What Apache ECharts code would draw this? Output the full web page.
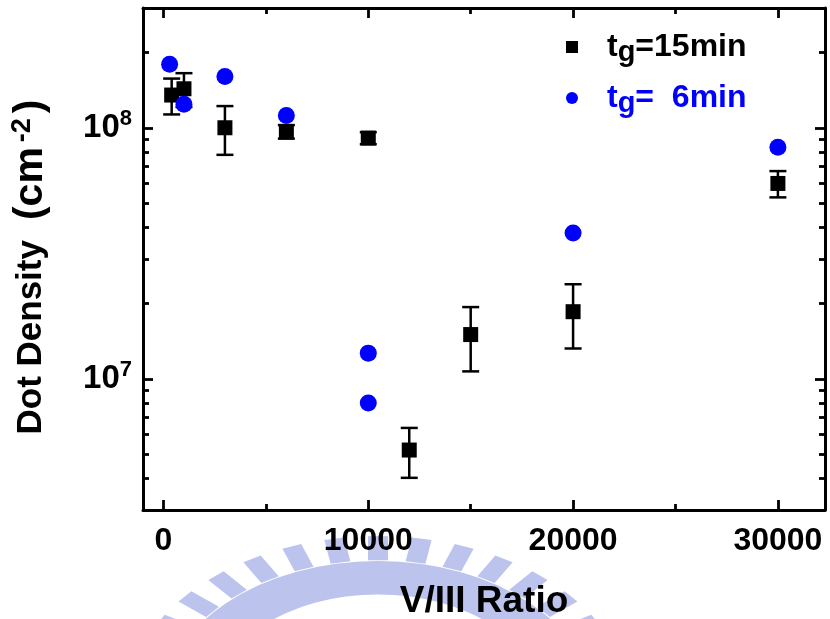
<!DOCTYPE html>
<html><head><meta charset="utf-8">
<script src="https://cdn.jsdelivr.net/npm/echarts@6/dist/echarts.min.js"></script>
<style>html,body{margin:0;padding:0;background:#fff}#c{width:830px;height:619px}</style>
</head><body><div id="c"></div>
<script>
// ---- data ----
const xTickLabels = [0, 10000, 20000, 30000];
const xMinorTicks = [5000, 15000, 25000];
const yTickLabels = [1e7, 1e8];
const yMinorTicks = [4e6, 5e6, 6e6, 7e6, 8e6, 9e6, 2e7, 3e7, 4e7, 5e7, 6e7, 7e7, 8e7, 9e7, 2e8];

const ratio15 = [400, 1000, 3000, 6000, 10000, 12000, 15000, 20000, 30000];
const density15 = [1.35e8, 1.43e8, 1.0e8, 0.965e8, 0.91e8, 5.2e6, 1.5e7, 1.85e7, 6.0e7];
const error15 = [0.22e8, 0.22e8, 0.22e8, 0.06e8, 0.05e8, 1.17e6, 0.43e7, 0.53e7, 0.72e7];

const ratio6 = [300, 1000, 3000, 6000, 10000, 10000, 20000, 30000];
const density6 = [1.79e8, 1.24e8, 1.60e8, 1.12e8, 1.265e7, 8.0e6, 3.81e7, 8.36e7];

const legendNames = ['t15', 't6'];
const legendTexts = ['=15min', '=  6min'];

// ---- chart ----
const FONT = '"Liberation Sans", Arial, Helvetica, sans-serif';
const BLUE = '#0000ff';
const X_MIN = -1000, X_MAX = 32300, Y_MIN = 3e6, Y_MAX = 3e8;
const lineSt = {color: '#000', width: 3};
const tickSt = {color: '#000', width: 2.8};

function xAxisDef(position, ticks, len, showLine, showLabel) {
  return {
    type: 'value', position, min: X_MIN, max: X_MAX,
    axisLine: {show: showLine, onZero: false, lineStyle: lineSt},
    axisTick: {show: true, inside: true, length: len, customValues: ticks, lineStyle: tickSt},
    axisLabel: {show: showLabel, customValues: ticks, formatter: v => String(v),
      fontSize: 32, fontWeight: 'bold', color: '#000', fontFamily: FONT, margin: 15},
    splitLine: {show: false}
  };
}
function yAxisDef(position, ticks, len, showLine, showLabel) {
  return {
    type: 'log', logBase: 10, position, min: Y_MIN, max: Y_MAX,
    axisLine: {show: showLine, onZero: false, lineStyle: lineSt},
    axisTick: {show: true, inside: true, length: len, customValues: ticks, lineStyle: tickSt},
    axisLabel: {
      show: showLabel, customValues: ticks, margin: 11,
      formatter: v => '{b|10}{s|' + Math.round(Math.log10(v)) + '}',
      rich: {
        b: {fontSize: 33, fontWeight: 'bold', color: '#000', fontFamily: FONT, lineHeight: 40},
        s: {fontSize: 22, fontWeight: 'bold', color: '#000', fontFamily: FONT, lineHeight: 22, verticalAlign: 'top'}
      }
    },
    splitLine: {show: false}
  };
}

const xMain = xAxisDef('bottom', xTickLabels, 10, true, true);
xMain.name = 'V/III Ratio';
xMain.nameLocation = 'middle';
xMain.nameGap = 73;
xMain.nameTextStyle = {fontSize: 37, fontWeight: 'bold', color: '#000', fontFamily: FONT};

const yMain = yAxisDef('left', yTickLabels, 10, true, true);
yMain.name = '{a|Dot Density}{sp|}{b|(cm}{s|-2}{b|)}{e|}';
yMain.nameLocation = 'middle';
yMain.nameRotate = 90;
yMain.nameGap = 90;
yMain.nameTextStyle = {
  color: '#000', fontFamily: FONT, fontWeight: 'bold',
  rich: {
    a: {fontSize: 35, fontWeight: 'bold', fontFamily: FONT, color: '#000', lineHeight: 44},
    sp: {width: 20},
    b: {fontSize: 41, fontWeight: 'bold', fontFamily: FONT, color: '#000', lineHeight: 44},
    s: {fontSize: 27, fontWeight: 'bold', fontFamily: FONT, color: '#000', lineHeight: 27, verticalAlign: 'top', width: 34, align: 'center'},
    e: {width: 16}
  }
};

// decorative watermark (scanned emblem behind the x-axis title)
const WM = '#98a3e2';
const wmChildren = [
  {type: 'sector', shape: {cx: 0, cy: 0, r0: 165, r: 215, startAngle: Math.PI, endAngle: 2 * Math.PI},
   style: {fill: WM, opacity: 0.65}}
];
for (let k = -7; k <= 7; k++) {
  const phi = k * 10 * Math.PI / 180;
  const rm = 228;
  wmChildren.push({
    type: 'rect', x: rm * Math.sin(phi), y: -rm * Math.cos(phi), rotation: -phi,
    shape: {x: -10, y: -24, width: 20, height: 36},
    style: {fill: WM, opacity: 0.65}
  });
}

const option = {
  animation: false,
  backgroundColor: '#fff',
  grid: {left: 143, right: 5, top: 8, bottom: 109, containLabel: false, outerBoundsMode: 'none'},
  graphic: [{type: 'group', x: 378, y: 705, scaleY: 0.67, z: -10, silent: true, children: wmChildren}],
  xAxis: [
    xMain,
    xAxisDef('bottom', xMinorTicks, 6, false, false),
    xAxisDef('top', xTickLabels, 10, true, false),
    xAxisDef('top', xMinorTicks, 6, false, false)
  ],
  yAxis: [
    yMain,
    yAxisDef('left', yMinorTicks, 6, false, false),
    yAxisDef('right', yTickLabels, 10, true, false),
    yAxisDef('right', yMinorTicks, 6, false, false)
  ],
  legend: {
    orient: 'vertical', left: 561, top: 26, itemWidth: 12, itemHeight: 12, itemGap: 15,
    data: [
      {name: legendNames[0], icon: 'rect'},
      {name: legendNames[1], icon: 'circle', textStyle: {color: BLUE}}
    ],
    formatter: n => '{p|}{t|t}{g|g}{t|' + legendTexts[legendNames.indexOf(n)] + '}',
    textStyle: {
      color: '#000', fontFamily: FONT, fontWeight: 'bold', fontSize: 32,
      rich: {
        p: {width: 24},
        t: {fontSize: 32, fontWeight: 'bold', fontFamily: FONT, lineHeight: 40},
        g: {fontSize: 29, fontWeight: 'bold', fontFamily: FONT, lineHeight: 12, verticalAlign: 'bottom'}
      }
    }
  },
  series: [
    {
      type: 'custom', xAxisIndex: 0, yAxisIndex: 0, z: 2, silent: true,
      data: ratio15.map((x, i) => [x, density15[i] - error15[i], density15[i] + error15[i]]),
      encode: {x: 0, y: [1, 2]},
      renderItem(params, api) {
        const x = api.value(0), lo = api.value(1), hi = api.value(2);
        const p1 = api.coord([x, lo]), p2 = api.coord([x, hi]);
        const w = 8.5;
        const st = {stroke: '#000', lineWidth: 2.5};
        return {type: 'group', children: [
          {type: 'line', shape: {x1: p1[0], y1: p1[1], x2: p2[0], y2: p2[1]}, style: st},
          {type: 'line', shape: {x1: p1[0] - w, y1: p1[1], x2: p1[0] + w, y2: p1[1]}, style: st},
          {type: 'line', shape: {x1: p2[0] - w, y1: p2[1], x2: p2[0] + w, y2: p2[1]}, style: st}
        ]};
      }
    },
    {
      name: legendNames[0], type: 'scatter', xAxisIndex: 0, yAxisIndex: 0, z: 3,
      symbol: 'rect', symbolSize: 15, itemStyle: {color: '#000', opacity: 1},
      data: ratio15.map((x, i) => [x, density15[i]])
    },
    {
      name: legendNames[1], type: 'scatter', xAxisIndex: 0, yAxisIndex: 0, z: 4,
      symbol: 'circle', symbolSize: 17, itemStyle: {color: BLUE, opacity: 1},
      data: ratio6.map((x, i) => [x, density6[i]])
    }
  ]
};
const chart = echarts.init(document.getElementById('c'), null, {renderer: 'canvas'});
chart.setOption(option);
</script></body></html>
